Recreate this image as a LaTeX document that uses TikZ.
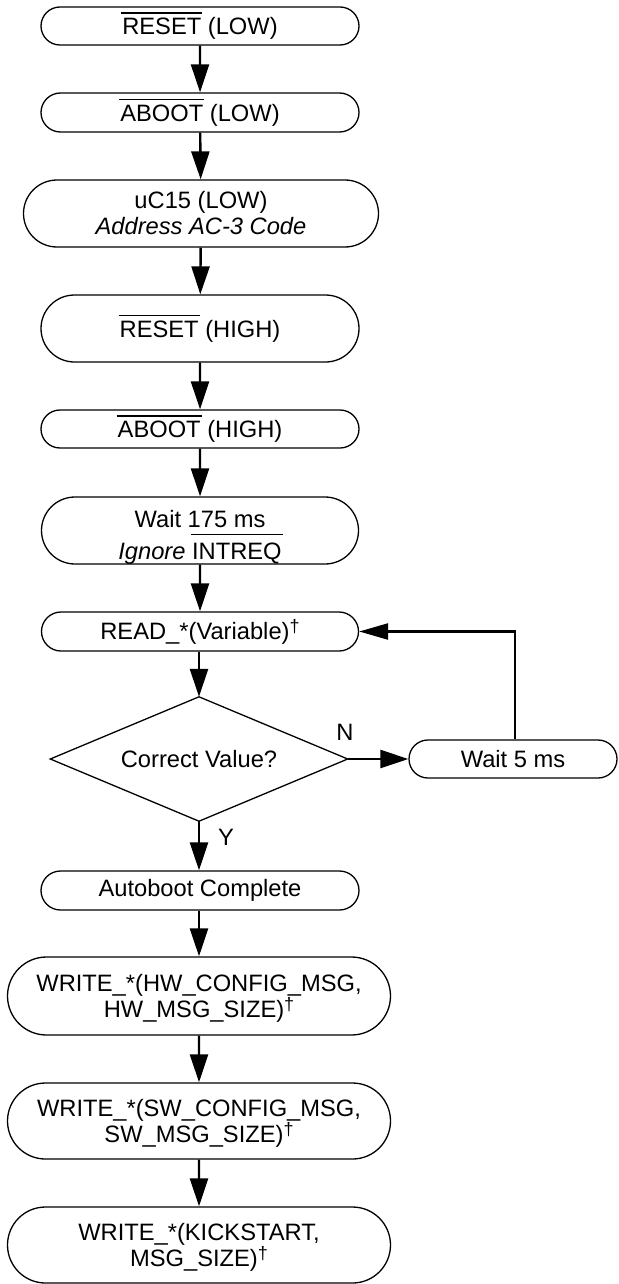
\documentclass[tikz,border=0pt]{standalone}
\usepackage{fontspec}
\setmainfont{Liberation Sans}
\usetikzlibrary{shapes.misc,arrows.meta}
\newcommand\barred[2][21pt]{\setbox0=\hbox{#2}\rlap{\hspace{-1pt}\raisebox{#1}{\rule{\dimexpr\wd0+2pt\relax}{1.4pt}}}\box0\relax}
\newcommand\mydag{\raisebox{7pt}{\fontsize{18}{18}\selectfont †}}
\tikzset{
  pill/.style={draw, line width=1.3pt, rounded rectangle, inner sep=0pt, align=center,
    font=\fontsize{23.7}{26}\selectfont},
  diabox/.style={inner sep=0pt, align=center, minimum width=297pt, minimum height=124pt,
    font=\fontsize{23.7}{26}\selectfont},
  lbl/.style={inner sep=0pt, font=\fontsize{23.7}{26}\selectfont},
  flow/.style={line width=2.4pt, -{Triangle[length=28pt,width=18pt]}},
  back/.style={line width=2.4pt, -{Triangle[length=29pt,width=16pt]}}
}
\begin{document}
\begin{tikzpicture}[x=1pt,y=-1pt]
\useasboundingbox (0,0) rectangle (618,1284);
\node[pill, minimum width=318pt, minimum height=38pt] (b1) at (200,26) {\barred{RESET} (LOW)};
\node[pill, minimum width=318pt, minimum height=39pt] (b2) at (200,112.5) {\barred{ABOOT} (LOW)};
\node[pill, minimum width=355pt, minimum height=67pt] (b3) at (201,213.5) {uC15 (LOW)\\\textit{Address AC-3 Code}};
\node[pill, minimum width=318pt, minimum height=67pt] (b4) at (200,328.5) {\barred{RESET} (HIGH)};
\node[pill, minimum width=318pt, minimum height=38pt] (b5) at (200,429) {\barred{ABOOT} (HIGH)};
\node[pill, minimum width=317pt, minimum height=67pt] (b6) at (200,530.5) {\rule{0pt}{30pt}Wait 175 ms\\[6pt]\textit{Ignore} \barred[24pt]{INTREQ}};
\node[pill, minimum width=317pt, minimum height=39pt] (b7) at (200,631.5) {READ\_*(Variable)\mydag};
\node[diabox] (d) at (199,759) {Correct Value?};
\draw[line width=1.3pt, line join=miter] (d.north) -- (d.east) -- (d.south) -- (d.west) -- cycle;
\node[pill, minimum width=208pt, minimum height=38pt] (w5) at (513,759) {Wait 5 ms};
\node[pill, minimum width=318pt, minimum height=39pt] (b8) at (200,890.5) {Autoboot Complete};
\node[pill, minimum width=383pt, minimum height=78pt] (b9) at (199,996) {\rule{0pt}{22pt}WRITE\_*(HW\_CONFIG\_MSG,\\HW\_MSG\_SIZE)\mydag};
\node[pill, minimum width=383pt, minimum height=76pt] (b10) at (199,1121) {\rule{0pt}{22pt}WRITE\_*(SW\_CONFIG\_MSG,\\SW\_MSG\_SIZE)\mydag};
\node[pill, minimum width=383pt, minimum height=76pt] (b11) at (199,1245) {\rule{0pt}{22pt}WRITE\_*(KICKSTART,\\MSG\_SIZE)\mydag};
\node[lbl] (n) at (345,732) {N};
\node[lbl] (y) at (226,837) {Y};
\draw[flow] (b1) -- (b2);
\draw[flow] (b2) -- (b3);
\draw[flow] (b3) -- (b4);
\draw[flow] (b4) -- (b5);
\draw[flow] (b5) -- (b6);
\draw[flow] (b6) -- (b7);
\draw[flow] (b7.south -| d.north) -- (d.north);
\draw[flow] (d.south) -- (b8.north -| d.south);
\draw[flow] (b8.south -| b9.north) -- (b9.north);
\draw[flow] (b9) -- (b10);
\draw[flow] (b10) -- (b11);
\draw[flow] (d.east) -- (w5.west);
\draw[back] ([xshift=2pt]w5.north) |- (b7.east);
\end{tikzpicture}
\end{document}
